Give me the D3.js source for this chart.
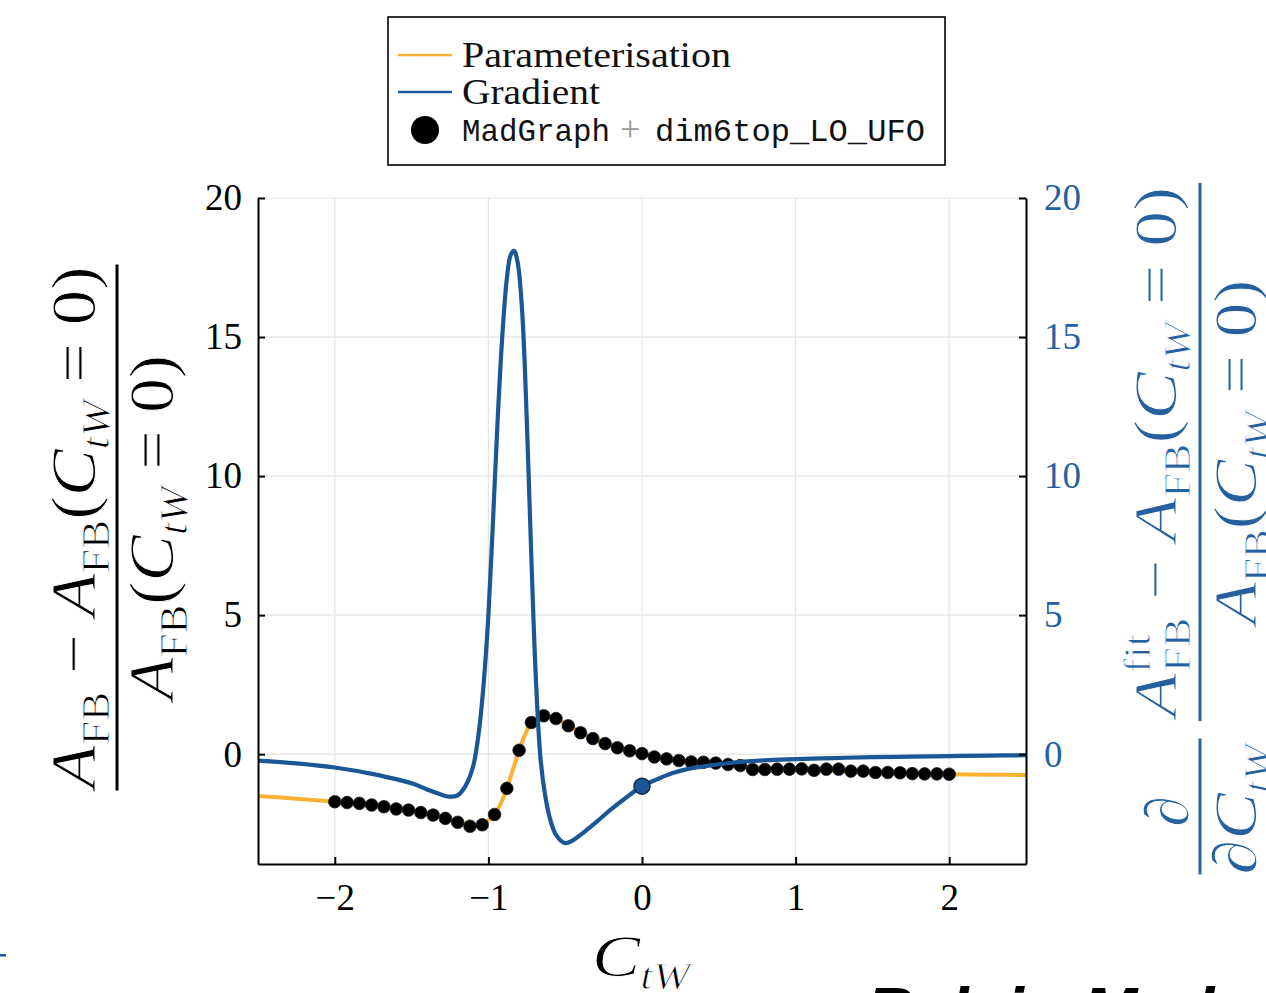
<!DOCTYPE html>
<html>
<head>
<meta charset="utf-8">
<script src="https://cdn.jsdelivr.net/npm/d3@7"></script>
<style>
  html, body { margin: 0; padding: 0; background: #fff; }
  svg { display: block; }
</style>
</head>
<body>
<svg id="chart" width="1266" height="993"></svg>
<script>
// ---------------- DATA ----------------
const xTicks = [-2, -1, 0, 1, 2];
const yTicks = [0, 5, 10, 15, 20];

// MadGraph + dim6top_LO_UFO points
const mgX = [-2.00,-1.92,-1.84,-1.76,-1.68,-1.60,-1.52,-1.44,-1.36,-1.28,-1.20,-1.12,-1.04,
             -0.96,-0.88,-0.80,-0.72,-0.64,-0.56,-0.48,-0.40,-0.32,-0.24,-0.16,-0.08,
              0.00, 0.08, 0.16, 0.24, 0.32, 0.40, 0.48, 0.56, 0.64, 0.72, 0.80, 0.88, 0.96,
              1.04, 1.12, 1.20, 1.28, 1.36, 1.44, 1.52, 1.60, 1.68, 1.76, 1.84, 1.92, 2.00];
const mgY = [-1.71,-1.74,-1.77,-1.83,-1.89,-1.97,-2.01,-2.10,-2.19,-2.31,-2.45,-2.59,-2.54,
             -2.17,-1.23, 0.14, 1.14, 1.38, 1.28, 1.02, 0.77, 0.56, 0.38, 0.23, 0.12,
              0.02,-0.10,-0.17,-0.23,-0.28,-0.29,-0.32,-0.37,-0.41,-0.55,-0.55,-0.54,-0.54,
             -0.53,-0.58,-0.54,-0.54,-0.61,-0.61,-0.66,-0.66,-0.67,-0.70,-0.71,-0.71,-0.72];

// Parameterisation curve
const paramX = [-2.5,-2.25,-2.0,-1.8,-1.6,-1.4,-1.2,-1.1,-1.04,-1.0,-0.96,-0.92,-0.88,-0.84,-0.80,
                -0.76,-0.72,-0.68,-0.64,-0.56,-0.48,-0.40,-0.32,-0.24,-0.16,-0.08,0.0,
                 0.2,0.4,0.6,0.8,1.0,1.25,1.5,1.75,2.0,2.25,2.5];
const paramY = [-1.50,-1.60,-1.71,-1.80,-1.96,-2.14,-2.42,-2.57,-2.53,-2.38,-2.17,-1.78,-1.23,-0.55,0.14,
                 0.72,1.14,1.33,1.38,1.28,1.03,0.78,0.56,0.38,0.23,0.11,0.0,
                -0.20,-0.33,-0.43,-0.50,-0.55,-0.60,-0.65,-0.69,-0.72,-0.74,-0.75];

// Gradient curve
const gradX = [-2.5,-2.25,-2.0,-1.75,-1.5,-1.4,-1.3,-1.25,-1.2,-1.15,-1.1,-1.06,-1.03,-1.0,-0.97,
               -0.94,-0.91,-0.88,-0.855,-0.833,-0.81,-0.78,-0.75,-0.72,-0.69,-0.66,-0.63,-0.6,
               -0.56,-0.5,-0.45,-0.4,-0.3,-0.2,-0.1,0.0,0.1,0.2,0.3,0.4,0.6,0.8,1.0,1.25,1.5,
               1.75,2.0,2.25,2.5];
const gradY = [-0.23,-0.33,-0.48,-0.72,-1.05,-1.27,-1.47,-1.53,-1.48,-1.15,-0.45,0.9,2.6,5.0,8.4,
               12.0,15.0,17.1,17.95,18.1,17.7,15.9,12.0,7.0,2.6,-0.2,-1.5,-2.3,
               -2.9,-3.2,-3.1,-2.9,-2.45,-1.98,-1.55,-1.15,-0.90,-0.68,-0.53,-0.44,-0.30,-0.22,-0.18,-0.14,-0.11,
               -0.09,-0.07,-0.05,-0.04];

const gradMarkX = [0.0];
const gradMarkY = [-1.15];

const legendLabels = ["Parameterisation", "Gradient"];

// ---------------- STYLE ----------------
const ORANGE = "#f7b232";
const BLUE = "#1b5797";
const BLUE_TXT = "#25609f";
const SERIF = "'Liberation Serif', 'DejaVu Serif', serif";
const MONO = "'Liberation Mono', 'DejaVu Sans Mono', monospace";

const svg = d3.select("#chart");
svg.append("rect").attr("width", 1266).attr("height", 993).attr("fill", "#fff");

const x = d3.scaleLinear().domain([-2.5, 2.5]).range([258, 1026]);
const y = d3.scaleLinear().domain([-3.95, 20]).range([864, 198]);

// grid
const grid = svg.append("g").attr("stroke", "#e4e4e4").attr("stroke-width", 1.2);
grid.selectAll(".gx").data(xTicks).join("line")
  .attr("x1", d => x(d)).attr("x2", d => x(d)).attr("y1", 198).attr("y2", 864);
grid.selectAll(".gy").data(yTicks).join("line")
  .attr("x1", 258).attr("x2", 1026).attr("y1", d => y(d)).attr("y2", d => y(d));

// clip
svg.append("clipPath").attr("id", "clip").append("rect")
  .attr("x", 258).attr("y", 198).attr("width", 768).attr("height", 666);
const plot = svg.append("g").attr("clip-path", "url(#clip)");

const line = d3.line().x(d => x(d[0])).y(d => y(d[1])).curve(d3.curveCatmullRom.alpha(0.5));

plot.append("path").datum(paramX.map((v, i) => [v, paramY[i]]))
  .attr("d", line).attr("fill", "none").attr("stroke", ORANGE).attr("stroke-width", 4);

plot.selectAll(".mg").data(mgX.map((v, i) => [v, mgY[i]])).join("circle")
  .attr("cx", d => x(d[0])).attr("cy", d => y(d[1])).attr("r", 6.3)
  .attr("fill", "#000").attr("stroke", "#222").attr("stroke-width", 0.8);

plot.append("path").datum(gradX.map((v, i) => [v, gradY[i]]))
  .attr("d", line).attr("fill", "none").attr("stroke", BLUE).attr("stroke-width", 4.2)
  .attr("stroke-linejoin", "round");

plot.selectAll(".gm").data(gradMarkX.map((v, i) => [v, gradMarkY[i]])).join("circle")
  .attr("cx", d => x(d[0])).attr("cy", d => y(d[1])).attr("r", 8)
  .attr("fill", BLUE).attr("stroke", "#0d2a4a").attr("stroke-width", 1.5);

// axes
const fmt = d3.format("d");
function styleAxis(g, color) {
  g.select(".domain").attr("stroke", "#000").attr("stroke-width", 2);
  g.selectAll(".tick line").attr("stroke", "#000").attr("stroke-width", 2);
  g.selectAll(".tick text").attr("font-family", SERIF).attr("font-size", 37).attr("fill", color);
}
const ax = svg.append("g").attr("transform", "translate(0,864)")
  .call(d3.axisBottom(x).tickValues(xTicks).tickFormat(fmt).tickSizeInner(-7).tickSizeOuter(0).tickPadding(20));
styleAxis(ax, "#000");
const ayl = svg.append("g").attr("transform", "translate(258,0)")
  .call(d3.axisLeft(y).tickValues(yTicks).tickFormat(fmt).tickSizeInner(-7).tickSizeOuter(0).tickPadding(16));
styleAxis(ayl, "#000");
const ayr = svg.append("g").attr("transform", "translate(1026,0)")
  .call(d3.axisRight(y).tickValues(yTicks).tickFormat(fmt).tickSizeInner(-7).tickSizeOuter(0).tickPadding(18));
styleAxis(ayr, BLUE_TXT);

// ---------------- math text helper ----------------
function mathText(g, parts, opt) {
  const t = g.append("text").attr("x", opt.x || 0).attr("y", opt.y || 0)
    .attr("font-family", SERIF).attr("font-size", opt.size).attr("fill", opt.color)
    .attr("text-anchor", opt.anchor || "middle")
    .attr("stroke", "#fff").attr("stroke-width", opt.thin || 0).attr("paint-order", "fill");
  if (opt.len) t.attr("textLength", opt.len).attr("lengthAdjust", "spacingAndGlyphs");
  let cur = 0;
  parts.forEach(p => {
    const fs = (p.sub || p.sup) ? opt.size * 0.62 : opt.size;
    const target = p.sub ? opt.size * 0.22 : (p.sup ? -opt.size * 0.42 : 0);
    const ts = t.append("tspan").text(p.t).attr("font-size", fs)
      .attr("font-style", p.it ? "italic" : "normal");
    if (target !== cur) { ts.attr("dy", target - cur); cur = target; }
    if (p.dx) ts.attr("dx", p.dx);
  });
  return t;
}

const numParts = [
  {t: "A", it: true}, {t: "FB", sub: true}, {t: " − "}, {t: "A", it: true}, {t: "FB", sub: true},
  {t: "("}, {t: "C", it: true}, {t: "tW", sub: true, it: true}, {t: " = 0)"}
];
const denParts = [
  {t: "A", it: true}, {t: "FB", sub: true}, {t: "("}, {t: "C", it: true},
  {t: "tW", sub: true, it: true}, {t: " = 0)"}
];
const fitNumParts = [
  {t: "A", it: true}, {t: "fit", sup: true}, {t: "FB", sub: true, dx: -33}, {t: " − "},
  {t: "A", it: true}, {t: "FB", sub: true}, {t: "("}, {t: "C", it: true},
  {t: "tW", sub: true, it: true}, {t: " = 0)"}
];

// left y label
const gl = svg.append("g").attr("transform", "translate(117,527.5) rotate(-90)");
gl.append("line").attr("x1", -263).attr("x2", 263).attr("y1", 0).attr("y2", 0)
  .attr("stroke", "#000").attr("stroke-width", 3);
mathText(gl, numParts, {y: -22, size: 64, color: "#000", len: 522, thin: 0.9});
mathText(gl, denParts, {y: 56, size: 64, color: "#000", len: 345, thin: 0.9});

// right y label
const gr = svg.append("g").attr("transform", "translate(1200,452) rotate(-90)");
gr.append("line").attr("x1", -269).attr("x2", 269).attr("y1", 0).attr("y2", 0)
  .attr("stroke", BLUE_TXT).attr("stroke-width", 3);
mathText(gr, fitNumParts, {y: -24, size: 62, color: BLUE_TXT, len: 530, thin: 0.9});
mathText(gr, denParts, {y: 56, size: 62, color: BLUE_TXT, len: 345, thin: 0.9});

const gd = svg.append("g").attr("transform", "translate(1200,806.5) rotate(-90)");
gd.append("line").attr("x1", -68).attr("x2", 68).attr("y1", 0).attr("y2", 0)
  .attr("stroke", BLUE_TXT).attr("stroke-width", 3);
mathText(gd, [{t: "∂"}], {x: -5, y: -12, size: 62, color: BLUE_TXT, thin: 0.9});
mathText(gd, [{t: "∂"}, {t: "C", it: true}, {t: "tW", sub: true, it: true}],
  {x: -3, y: 56, size: 62, color: BLUE_TXT, len: 130, thin: 0.9});

// x label
mathText(svg, [{t: "C", it: true}, {t: "tW", sub: true, it: true}],
  {x: 641, y: 976, size: 60, color: "#000", len: 98, thin: 0.9});

// ---------------- legend ----------------
const lg = svg.append("g");
lg.append("rect").attr("x", 388).attr("y", 17).attr("width", 557).attr("height", 148)
  .attr("fill", "#fff").attr("stroke", "#000").attr("stroke-width", 1.6);
const legColors = [ORANGE, BLUE];
const legY = [55, 92];
legendLabels.forEach((lab, i) => {
  lg.append("line").attr("x1", 398).attr("x2", 452).attr("y1", legY[i]).attr("y2", legY[i])
    .attr("stroke", legColors[i]).attr("stroke-width", 2.5);
  lg.append("text").attr("x", 462).attr("y", legY[i] + 12).text(lab)
    .attr("font-family", SERIF).attr("font-size", 36).attr("fill", "#111")
    .attr("textLength", i === 0 ? 269 : 138).attr("lengthAdjust", "spacingAndGlyphs");
});
lg.append("circle").attr("cx", 425).attr("cy", 130).attr("r", 14).attr("fill", "#000");
lg.append("text").attr("x", 462).attr("y", 141).text("MadGraph")
  .attr("font-family", MONO).attr("font-size", 32).attr("fill", "#111")
  .attr("textLength", 148).attr("lengthAdjust", "spacingAndGlyphs");
lg.append("text").attr("x", 620).attr("y", 141).text("+")
  .attr("font-family", SERIF).attr("font-size", 36).attr("fill", "#999");
lg.append("text").attr("x", 655).attr("y", 141).text("dim6top_LO_UFO")
  .attr("font-family", MONO).attr("font-size", 32).attr("fill", "#111")
  .attr("textLength", 270).attr("lengthAdjust", "spacingAndGlyphs");

// ---------------- extras (cropped slide content) ----------------
svg.append("rect").attr("x", 0).attr("y", 954).attr("width", 6).attr("height", 2.5).attr("fill", BLUE);
svg.append("text").attr("x", 866).attr("y", 1034).text("Relain Mad")
  .attr("font-family", "'Liberation Sans', Arial, sans-serif").attr("font-weight", "bold")
  .attr("font-style", "italic").attr("font-size", 66).attr("fill", "#000");
</script>
</body>
</html>
